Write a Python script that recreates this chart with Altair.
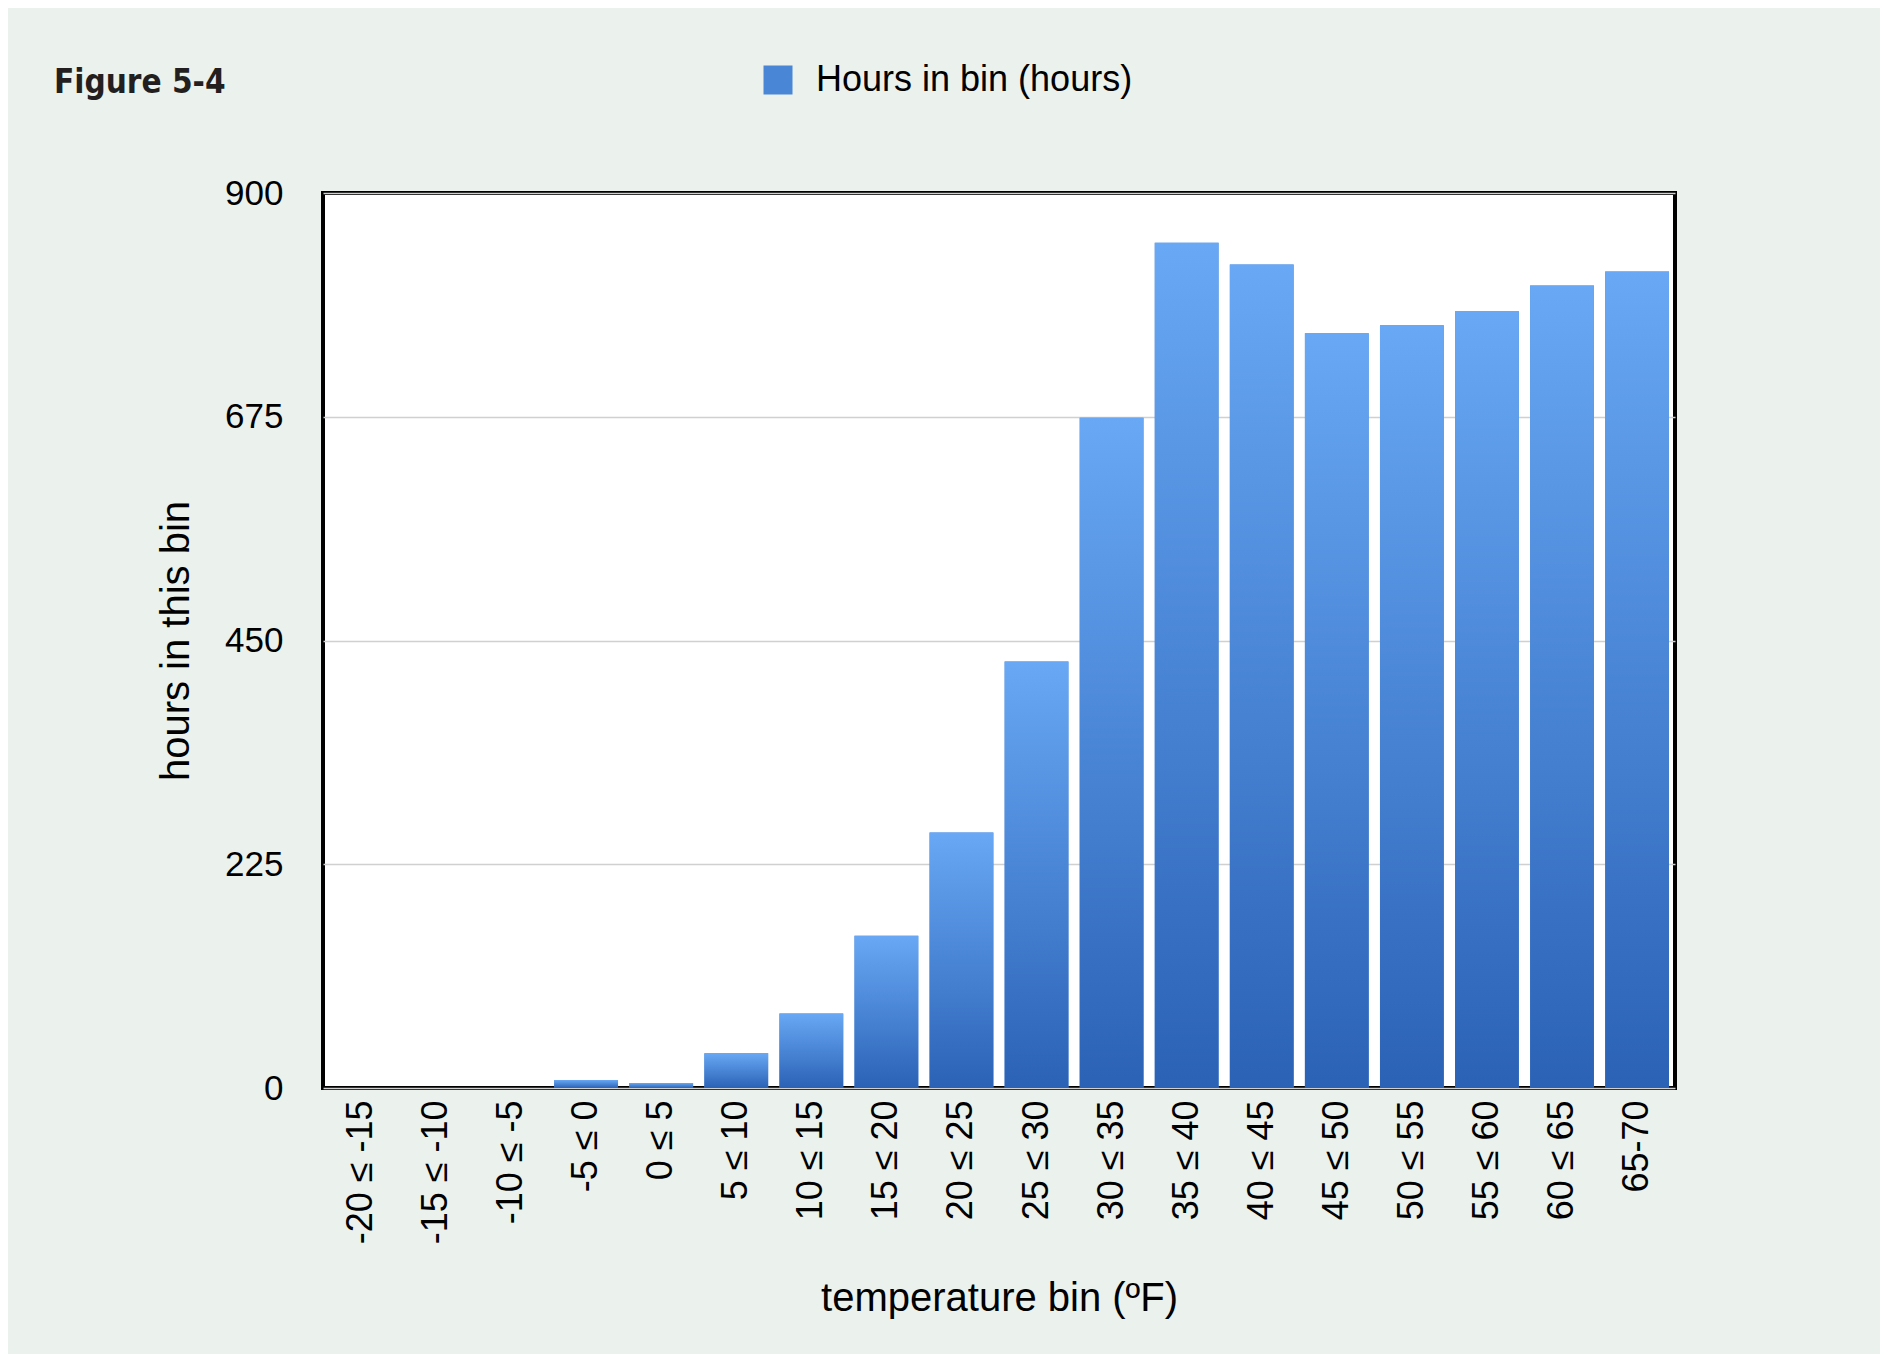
import altair as alt
import pandas as pd

# temperature bins and hours
bins = [
    "-20 ≤ -15", "-15 ≤ -10", "-10 ≤ -5", "-5 ≤ 0", "0 ≤ 5", "5 ≤ 10",
    "10 ≤ 15", "15 ≤ 20", "20 ≤ 25", "25 ≤ 30", "30 ≤ 35", "35 ≤ 40",
    "40 ≤ 45", "45 ≤ 50", "50 ≤ 55", "55 ≤ 60", "60 ≤ 65", "65-70",
]
hours = [0, 0, 0, 8, 5, 35, 75, 153, 257, 429, 674, 850, 828, 759, 767, 781, 807, 821]
series_name = "Hours in bin (hours)"
y_ticks = [0, 225, 450, 675, 900]

df = pd.DataFrame({"bin": bins, "hours": hours, "series": series_name})

FONT = "Liberation Sans"

x_enc = alt.X(
    "bin:N",
    sort=bins,
    title="temperature bin (ºF)",
    scale=alt.Scale(paddingInner=0.15, paddingOuter=0.08),
    axis=alt.Axis(
        labelAngle=-90,
        labelFontSize=36,
        labelPadding=12,
        titleFontSize=40,
        titlePadding=35,
    ),
)
y_enc = alt.Y(
    "hours:Q",
    title="hours in this bin",
    scale=alt.Scale(domain=[0, 900], nice=False),
    axis=alt.Axis(
        values=y_ticks,
        labelFontSize=35,
        labelPadding=40,
        titleFontSize=40,
        titlePadding=28,
        grid=True,
    ),
)

legend_bars = (
    alt.Chart(df)
    .mark_bar()
    .encode(
        x=x_enc,
        y=y_enc,
        color=alt.Color(
            "series:N",
            scale=alt.Scale(range=["#4a86d6"]),
            legend=alt.Legend(
                title=None,
                orient="none",
                legendX=437,
                legendY=-131,
                symbolType="square",
                symbolSize=841,
                symbolStrokeWidth=0,
                labelFontSize=36,
                labelOffset=20,
                labelLimit=0,
                padding=0,
            ),
        ),
    )
)

gradient_bars = (
    alt.Chart(df)
    .mark_bar(
        color=alt.Gradient(
            gradient="linear",
            stops=[
                alt.GradientStop(color="#68a8f4", offset=0),
                alt.GradientStop(color="#2b62b6", offset=1),
            ],
            x1=0, x2=0, y1=0, y2=1,
        )
    )
    .encode(x=x_enc, y=y_enc)
)

chart = (
    alt.layer(legend_bars, gradient_bars)
    .properties(
        width=1352,
        height=895,
        autosize=alt.AutoSizeParams(type="none"),
        padding={"left": 315, "top": 185, "right": 205, "bottom": 266},
        background="#ebf1ed",
        title=alt.TitleParams(
            "Figure 5-4",
            anchor="start",
            frame="group",
            orient="top",
            baseline="alphabetic",
            offset=0,
            dy=64,
            dx=-269,
            font="DejaVu Sans Condensed, Roboto Condensed, Liberation Sans Narrow, Liberation Sans, sans-serif",
            fontSize=33,
            fontWeight="bold",
            color="#231f20",
        ),
    )
    .configure(font=FONT)
    .configure_view(fill="white", stroke="black", strokeWidth=4)
    .configure_axis(
        domain=False,
        ticks=False,
        labelColor="black",
        titleColor="black",
        titleFontWeight="normal",
        labelFont=FONT,
        titleFont=FONT,
        gridColor="#d0d0d0",
        gridWidth=1.5,
    )
    .configure_axisX(grid=False)
    .configure_legend(labelFont=FONT, labelColor="black")
)

chart.save("out.html", embed_options={"renderer": "svg", "actions": False})
